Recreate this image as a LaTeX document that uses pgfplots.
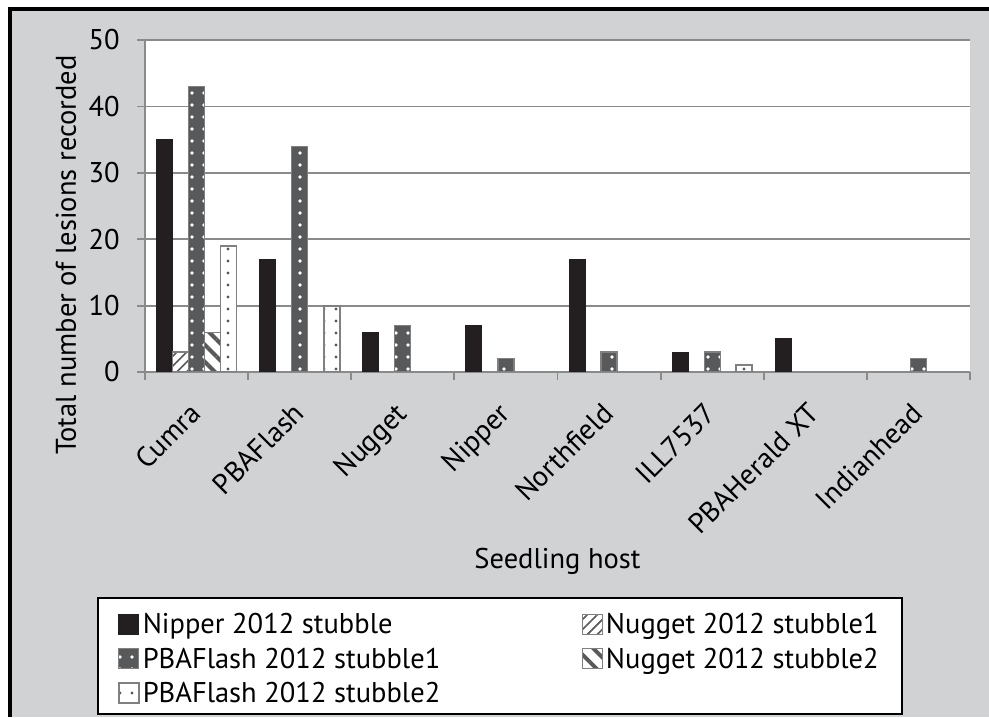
\documentclass[border=0pt]{standalone}
\usepackage{pgfplots}
\pgfplotsset{compat=1.18}
\usetikzlibrary{patterns.meta}
\usepackage{fontspec}
\setmainfont{PT Sans}
\definecolor{bggrey}{RGB}{209,210,212}
\definecolor{gridgrey}{RGB}{138,138,138}
\definecolor{barblack}{RGB}{35,31,32}
\definecolor{bardark}{RGB}{88,89,91}
\definecolor{bordergrey}{RGB}{128,128,128}
\pgfplotstableread{
x nipper nug1 pba1 nug2 pba2
0 35 3 43 6 19
1 17 0 34 0 10
2 6 0 7 0 0
3 7 0 2 0 0
4 17 0 3 0 0
5 3 0 3 0 1
6 5 0 0 0 0
7 0 0 2 0 0
}\datatable
\begin{document}
\begin{tikzpicture}[font=\fontsize{14.25pt}{17pt}\selectfont]
\useasboundingbox (0,0) rectangle (494.5pt,358.5pt);
\fill[white] (0,0) rectangle (494.5pt,358.5pt);
\fill[bggrey] (4.75pt,0) rectangle (494.5pt,353.75pt);
\draw[black,line width=2pt] (4.75pt,0) -- (4.75pt,353.75pt) -- (494.5pt,353.75pt);
\begin{axis}[
  at={(72.5pt,172.5pt)}, anchor=south west,
  scale only axis, width=412.5pt, height=166pt,
  ybar=0pt, bar width=8pt,
  xmin=-0.5, xmax=7.5, ymin=0, ymax=50,
  axis background/.style={fill=white},
  axis x line=bottom, axis y line=left,
  axis line style={-, draw=gridgrey, line width=0.9pt},
  xtick={0,...,7},
  xticklabels={Cumra,PBAFlash,Nugget,Nipper,Northfield,ILL7537,PBAHerald XT,Indianhead},
  minor xtick={-0.5,0.5,...,7.5},
  major x tick style={draw=none},
  minor x tick style={draw=gridgrey, line width=0.9pt},
  minor tick length=4pt,
  ytick={0,10,...,50},
  major tick length=4pt,
  y tick style={draw=gridgrey, line width=0.9pt},
  tick align=outside,
  ymajorgrids, major grid style={draw=gridgrey, line width=0.9pt},
  /pgf/number format/assume math mode=true,
  yticklabel style={anchor=east, inner sep=0pt, xshift=-8.5pt},
  xticklabel style={anchor=north east, inner sep=0pt, xshift=-4.25pt, yshift=-10.25pt, rotate=45},
  ylabel={Total number of lesions recorded},
  every axis y label/.style={at={(axis description cs:0,0.5)}, xshift=-39.5pt, yshift=-24.5pt, rotate=90, anchor=center},
  xlabel={Seedling host},
  every axis x label/.style={at={(axis description cs:0.5,0)}, anchor=center, yshift=-94.5pt},
  legend style={at={(axis description cs:-0.0582,-0.6777)}, anchor=north west,
    draw=black, line width=1pt, fill=white, legend columns=2,
    inner xsep=10pt, inner ysep=0.5pt,
    cells={anchor=base west},
    nodes={inner xsep=1.5pt, inner ysep=1.6pt, text depth=3.5pt}},
  legend image code/.code={\draw[#1] (0pt,-0.2pt) rectangle (10pt,9.8pt);},
  y filter/.expression={y==0 ? nan : y},
  unbounded coords=discard,
]
\addplot[fill=barblack, draw=barblack, line width=0.5pt] table[x=x,y=nipper] {\datatable};
\addplot[fill=white, draw=bordergrey, line width=0.6pt,
  postaction={pattern={Lines[angle=45,distance=3.5pt,line width=0.8pt]}, pattern color=bardark}] table[x=x,y=nug1] {\datatable};
\addplot[fill=bardark, draw=bordergrey, line width=0.6pt,
  postaction={pattern={Dots[distance=6pt,radius=0.9pt]}, pattern color=white}] table[x=x,y=pba1] {\datatable};
\addplot[fill=white, draw=bordergrey, line width=0.6pt,
  postaction={pattern={Lines[angle=-45,distance=6pt,line width=2pt]}, pattern color=bardark}] table[x=x,y=nug2] {\datatable};
\addplot[fill=white, draw=bordergrey, line width=0.9pt,
  postaction={pattern={Dots[distance=6pt,radius=0.85pt]}, pattern color=bardark}] table[x=x,y=pba2] {\datatable};
\legend{\makebox[218pt][l]{\rule{0pt}{15.9pt}Nipper 2012 stubble},
  \rule{0pt}{10.5pt}Nugget 2012 stubble1,
  \makebox[218pt][l]{\rule{0pt}{10.5pt}PBAFlash 2012 stubble1},
  \rule{0pt}{10.5pt}Nugget 2012 stubble2,
  \makebox[218pt][l]{\rule{0pt}{10.5pt}PBAFlash 2012 stubble2}}
\end{axis}
\end{tikzpicture}
\end{document}
